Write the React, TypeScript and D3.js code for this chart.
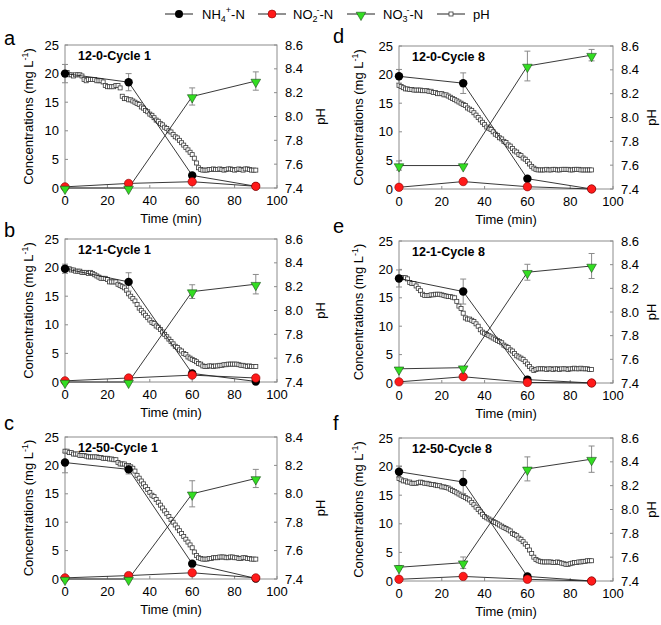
import React from 'react';
import * as d3 from 'd3';

const TIMES = [0, 30, 60, 90];
const X_TICKS = [0, 20, 40, 60, 80, 100];
const C_TICKS = [0, 5, 10, 15, 20, 25];
const PH_TICKS_A = [7.4, 7.6, 7.8, 8.0, 8.2, 8.4, 8.6];
const PH_TICKS_C = [7.4, 7.6, 7.8, 8.0, 8.2, 8.4];

const TITLES = ['12-0-Cycle 1', '12-1-Cycle 1', '12-50-Cycle 1', '12-0-Cycle 8', '12-1-Cycle 8', '12-50-Cycle 8'];
const LETTERS = ['a', 'b', 'c', 'd', 'e', 'f'];

const NH4 = [
  [20, 18.5, 2.2, 0.3],
  [19.8, 17.5, 1.5, 0.1],
  [20.5, 19.3, 2.7, 0.1],
  [19.7, 18.5, 1.8, 0],
  [18.4, 16.1, 0.6, 0],
  [19.1, 17.3, 0.8, 0],
];
const NH4_ERR = [
  [1.6, 1.5, 0, 0],
  [0.8, 1.6, 0, 0],
  [1.8, 0.8, 0, 0],
  [1.2, 1.8, 0, 0],
  [1.5, 2.2, 0, 0],
  [1.0, 2.0, 0, 0],
];
const NO2 = [
  [0.2, 0.8, 1.1, 0.3],
  [0.2, 0.7, 1.2, 0.7],
  [0.2, 0.6, 1.1, 0.2],
  [0.3, 1.3, 0.4, 0],
  [0.2, 1.1, 0.1, 0],
  [0.3, 0.8, 0.3, 0],
];
const NO3 = [
  [0, 0, 16, 18.7],
  [0, 0, 15.8, 17.1],
  [0, 0, 15, 17.7],
  [4.1, 4.1, 21.5, 23.4],
  [2.5, 2.7, 19.5, 20.6],
  [2.4, 3.2, 19.6, 21.3],
];
const NO3_ERR = [
  [0, 0, 1.5, 1.6],
  [0, 0, 1.2, 1.7],
  [0, 0, 2.3, 1.6],
  [0.8, 0, 2.6, 1.0],
  [0, 0, 1.4, 2.2],
  [0.3, 1.0, 2.1, 2.3],
];

// pH readings, one per minute from 0 to 90 min
const PH_A = [
  8.37, 8.37, 8.35, 8.35, 8.34, 8.35, 8.35, 8.35, 8.34, 8.31,
  8.30, 8.31, 8.31, 8.31, 8.31, 8.30, 8.30, 8.30, 8.29, 8.26,
  8.25, 8.25, 8.25, 8.25, 8.26, 8.26, 8.24, 8.17, 8.15, 8.15,
  8.14, 8.14, 8.13, 8.12, 8.11, 8.10, 8.08, 8.07, 8.05, 8.04,
  8.02, 8.01, 7.99, 7.97, 7.96, 7.94, 7.93, 7.91, 7.90, 7.88,
  7.87, 7.85, 7.83, 7.82, 7.80, 7.78, 7.76, 7.74, 7.72, 7.70,
  7.68, 7.65, 7.61, 7.57, 7.555, 7.55, 7.55, 7.55, 7.555, 7.555,
  7.56, 7.555, 7.555, 7.56, 7.555, 7.55, 7.555, 7.56, 7.56, 7.555,
  7.55, 7.555, 7.56, 7.555, 7.55, 7.56, 7.56, 7.555, 7.55, 7.55,
  7.55,
];
const PH_B = [
  8.36, 8.35, 8.35, 8.34, 8.34, 8.33, 8.33, 8.33, 8.32, 8.32,
  8.32, 8.31, 8.32, 8.31, 8.30, 8.29, 8.28, 8.27, 8.27, 8.27,
  8.26, 8.24, 8.24, 8.24, 8.24, 8.22, 8.21, 8.20, 8.19, 8.17,
  8.14, 8.12, 8.10, 8.08, 8.05, 8.02, 8.00, 7.98, 7.96, 7.94,
  7.92, 7.90, 7.89, 7.87, 7.86, 7.84, 7.82, 7.80, 7.78, 7.76,
  7.74, 7.72, 7.70, 7.69, 7.67, 7.66, 7.64, 7.63, 7.61, 7.60,
  7.59, 7.58, 7.57, 7.555, 7.55, 7.535, 7.53, 7.53, 7.535, 7.535,
  7.53, 7.535, 7.535, 7.54, 7.54, 7.545, 7.545, 7.55, 7.55, 7.55,
  7.55, 7.55, 7.545, 7.54, 7.54, 7.535, 7.53, 7.535, 7.53, 7.53,
  7.53,
];
const PH_C = [
  8.30, 8.30, 8.29, 8.29, 8.28, 8.28, 8.28, 8.27, 8.27, 8.27,
  8.265, 8.26, 8.26, 8.26, 8.26, 8.26, 8.255, 8.255, 8.25, 8.25,
  8.25, 8.245, 8.245, 8.24, 8.24, 8.22, 8.21, 8.21, 8.21, 8.20,
  8.20, 8.19, 8.18, 8.16, 8.13, 8.11, 8.09, 8.07, 8.05, 8.03,
  8.01, 7.99, 7.98, 7.96, 7.94, 7.92, 7.90, 7.88, 7.86, 7.84,
  7.82, 7.80, 7.78, 7.76, 7.74, 7.72, 7.70, 7.68, 7.66, 7.64,
  7.62, 7.59, 7.565, 7.55, 7.545, 7.54, 7.54, 7.54, 7.545, 7.545,
  7.55, 7.55, 7.55, 7.555, 7.555, 7.555, 7.55, 7.55, 7.555, 7.555,
  7.55, 7.55, 7.545, 7.545, 7.55, 7.55, 7.545, 7.545, 7.54, 7.54,
  7.54,
];
const PH_D = [
  8.27, 8.26, 8.25, 8.24, 8.24, 8.235, 8.235, 8.23, 8.23, 8.23,
  8.23, 8.225, 8.225, 8.225, 8.22, 8.22, 8.21, 8.21, 8.20, 8.20,
  8.20, 8.19, 8.19, 8.18, 8.17, 8.16, 8.15, 8.14, 8.13, 8.12,
  8.11, 8.10, 8.08, 8.07, 8.06, 8.04, 8.02, 8.00, 7.98, 7.96,
  7.94, 7.92, 7.91, 7.90, 7.88, 7.86, 7.85, 7.83, 7.82, 7.80,
  7.79, 7.77, 7.76, 7.74, 7.72, 7.71, 7.69, 7.68, 7.66, 7.65,
  7.63, 7.61, 7.59, 7.575, 7.565, 7.56, 7.56, 7.56, 7.56, 7.565,
  7.56, 7.56, 7.565, 7.565, 7.56, 7.56, 7.565, 7.565, 7.565, 7.565,
  7.56, 7.56, 7.565, 7.565, 7.565, 7.56, 7.56, 7.56, 7.56, 7.56,
  7.56,
];
const PH_E = [
  8.29, 8.29, 8.29, 8.29, 8.28, 8.25, 8.24, 8.24, 8.22, 8.20,
  8.18, 8.15, 8.14, 8.14, 8.14, 8.145, 8.145, 8.15, 8.15, 8.15,
  8.145, 8.14, 8.135, 8.13, 8.13, 8.125, 8.12, 8.09, 8.05, 8.03,
  7.99, 7.95, 7.94, 7.94, 7.93, 7.92, 7.90, 7.88, 7.85, 7.83,
  7.82, 7.81, 7.80, 7.79, 7.78, 7.77, 7.76, 7.75, 7.74, 7.72,
  7.71, 7.70, 7.68, 7.67, 7.65, 7.63, 7.62, 7.61, 7.60, 7.58,
  7.56, 7.54, 7.52, 7.505, 7.515, 7.52, 7.52, 7.52, 7.52, 7.515,
  7.52, 7.52, 7.515, 7.52, 7.52, 7.515, 7.52, 7.52, 7.52, 7.515,
  7.52, 7.52, 7.525, 7.52, 7.52, 7.525, 7.52, 7.52, 7.52, 7.515,
  7.515,
];
const PH_F = [
  8.26, 8.25, 8.24, 8.24, 8.23, 8.23, 8.22, 8.22, 8.22, 8.225,
  8.23, 8.225, 8.22, 8.22, 8.215, 8.21, 8.21, 8.205, 8.20, 8.20,
  8.19, 8.19, 8.185, 8.18, 8.17, 8.16, 8.15, 8.14, 8.13, 8.12,
  8.11, 8.10, 8.09, 8.08, 8.06, 8.04, 8.02, 8.00, 7.98, 7.96,
  7.94, 7.93, 7.92, 7.91, 7.90, 7.89, 7.88, 7.87, 7.86, 7.85,
  7.84, 7.83, 7.82, 7.80, 7.79, 7.78, 7.76, 7.75, 7.73, 7.71,
  7.69, 7.66, 7.63, 7.60, 7.58, 7.57, 7.565, 7.56, 7.56, 7.56,
  7.56, 7.56, 7.555, 7.555, 7.56, 7.555, 7.55, 7.545, 7.54, 7.54,
  7.545, 7.55, 7.555, 7.555, 7.56, 7.56, 7.565, 7.565, 7.57, 7.57,
  7.57,
];
const PH = [PH_A, PH_B, PH_C, PH_D, PH_E, PH_F];
const PH_DOMAINS: [number, number][] = [[7.4, 8.6], [7.4, 8.6], [7.4, 8.4], [7.4, 8.6], [7.4, 8.6], [7.4, 8.6]];
const PH_TICKS = [PH_TICKS_A, PH_TICKS_A, PH_TICKS_C, PH_TICKS_A, PH_TICKS_A, PH_TICKS_A];

// layout (plot rectangles in page px)
const LAYOUT = [
  { x: 65, y: 45, w: 212, h: 143, lx: 4, ly: 45, col: 0 },
  { x: 65, y: 239, w: 212, h: 143, lx: 4, ly: 237, col: 0 },
  { x: 65, y: 437, w: 212, h: 142, lx: 4, ly: 430, col: 0 },
  { x: 399, y: 46, w: 214, h: 143, lx: 333, ly: 43, col: 1 },
  { x: 399, y: 241, w: 214, h: 142, lx: 333, ly: 233, col: 1 },
  { x: 399, y: 438, w: 214, h: 143, lx: 333, ly: 430, col: 1 },
];

const FONT = '"Liberation Sans", Arial, sans-serif';
const FRAME = '#8c8c8c';
const ERR = '#8a8a8a';
const RED = '#ff1a1a';
const GREEN = '#33dd22';

const triDown = d3.symbol().type(d3.symbolTriangle).size(40)();

function Panel({ i }: { i: number }) {
  const L = LAYOUT[i];
  const x = d3.scaleLinear().domain([0, 100]).range([L.x, L.x + L.w]);
  const y = d3.scaleLinear().domain([0, 25]).range([L.y + L.h, L.y]);
  const y2 = d3.scaleLinear().domain(PH_DOMAINS[i]).range([L.y + L.h, L.y]);
  const line = d3.line<number>().x((_, k) => x(TIMES[k])).y((v) => y(v));
  const phTimes = d3.range(PH[i].length);
  const leftTitleX = L.col === 0 ? 33 : 363;
  const rightTitleX = L.col === 0 ? 325 : 656;
  const cy = L.y + L.h / 2;

  const errBars = (vals: number[], errs: number[], key: string) =>
    vals.map((v, k) =>
      errs[k] > 0 ? (
        <g key={key + k} stroke={ERR} strokeWidth={1}>
          <line x1={x(TIMES[k])} x2={x(TIMES[k])} y1={y(v - errs[k])} y2={y(v + errs[k])} />
          <line x1={x(TIMES[k]) - 3} x2={x(TIMES[k]) + 3} y1={y(v - errs[k])} y2={y(v - errs[k])} />
          <line x1={x(TIMES[k]) - 3} x2={x(TIMES[k]) + 3} y1={y(v + errs[k])} y2={y(v + errs[k])} />
        </g>
      ) : null
    );

  return (
    <g>
      <text x={L.lx} y={L.ly} fontSize={20} fontFamily={FONT}>{LETTERS[i]}</text>
      {/* frame */}
      <rect x={L.x} y={L.y} width={L.w} height={L.h} fill="none" stroke={FRAME} strokeWidth={1} />
      {/* ticks */}
      {C_TICKS.map((t) => (
        <g key={'cl' + t}>
          <line x1={L.x} x2={L.x + 3} y1={y(t)} y2={y(t)} stroke={FRAME} />
          <text x={L.x - 6} y={y(t) + 4.5} textAnchor="end" fontSize={13} fontFamily={FONT}>{t}</text>
        </g>
      ))}
      {PH_TICKS[i].map((t) => (
        <g key={'pr' + t}>
          <line x1={L.x + L.w - 3} x2={L.x + L.w} y1={y2(t)} y2={y2(t)} stroke={FRAME} />
          <text x={L.x + L.w + 8} y={y2(t) + 4.5} textAnchor="start" fontSize={13} fontFamily={FONT}>{t.toFixed(1)}</text>
        </g>
      ))}
      {X_TICKS.map((t) => (
        <g key={'xt' + t}>
          <line x1={x(t)} x2={x(t)} y1={L.y + L.h} y2={L.y + L.h - 3} stroke={FRAME} />
          <text x={x(t)} y={L.y + L.h + 17} textAnchor="middle" fontSize={13} fontFamily={FONT}>{t}</text>
        </g>
      ))}
      <text x={(L.x + L.x + L.w) / 2} y={L.y + L.h + 35} textAnchor="middle" fontSize={13} fontFamily={FONT}>Time (min)</text>
      <text transform={`translate(${leftTitleX},${cy}) rotate(-90)`} textAnchor="middle" fontSize={13} fontFamily={FONT}>
        Concentrations (mg L<tspan fontSize={9} dy={-5}>-1</tspan><tspan dy={5}>)</tspan>
      </text>
      <text transform={`translate(${rightTitleX},${cy}) rotate(-90)`} textAnchor="middle" fontSize={13} fontFamily={FONT}>pH</text>
      <text x={L.x + 13} y={L.y + 15} fontSize={12.5} fontWeight="bold" fontFamily={FONT}>{TITLES[i]}</text>

      {/* pH */}
      {PH[i].map((v, k) => (
        <rect key={'ph' + k} x={x(phTimes[k]) - 2} y={y2(v) - 2} width={4} height={4} fill="#fff" stroke="#3a3a3a" strokeWidth={0.8} />
      ))}

      {/* error bars */}
      {errBars(NH4[i], NH4_ERR[i], 'en')}
      {errBars(NO3[i], NO3_ERR[i], 'e3')}

      {/* lines */}
      <path d={line(NO2[i]) || ''} fill="none" stroke="#222" strokeWidth={0.9} />
      <path d={line(NO3[i]) || ''} fill="none" stroke="#222" strokeWidth={0.9} />
      <path d={line(NH4[i]) || ''} fill="none" stroke="#222" strokeWidth={0.9} />

      {/* markers */}
      {NH4[i].map((v, k) => (
        <circle key={'n4' + k} cx={x(TIMES[k])} cy={y(v)} r={4.2} fill="#000" />
      ))}
      {NO2[i].map((v, k) => (
        <circle key={'n2' + k} cx={x(TIMES[k])} cy={y(v)} r={4.2} fill={RED} stroke="#8a0000" strokeWidth={0.6} />
      ))}
      {NO3[i].map((v, k) => (
        <path key={'n3' + k} d={triDown} transform={`translate(${x(TIMES[k])},${y(v) + 1}) rotate(180)`} fill={GREEN} stroke="#1a4a1a" strokeWidth={0.6} />
      ))}
    </g>
  );
}

function Legend() {
  const yy = 14;
  const items = [
    { x: 165, kind: 'nh4' },
    { x: 258, kind: 'no2' },
    { x: 347, kind: 'no3' },
    { x: 437, kind: 'ph' },
  ];
  return (
    <g fontFamily={FONT} fontSize={13}>
      {items.map((it) => {
        const cx = it.x + 14;
        return (
          <g key={it.kind}>
            <line x1={it.x} x2={it.x + 28} y1={yy} y2={yy} stroke="#222" strokeWidth={1} />
            {it.kind === 'nh4' && <circle cx={cx} cy={yy} r={4} fill="#000" />}
            {it.kind === 'no2' && <circle cx={cx} cy={yy} r={4} fill={RED} stroke="#8a0000" strokeWidth={0.6} />}
            {it.kind === 'no3' && (
              <path d={triDown} transform={`translate(${cx},${yy + 1}) rotate(180)`} fill={GREEN} stroke="#1a4a1a" strokeWidth={0.6} />
            )}
            {it.kind === 'ph' && <rect x={cx - 2} y={yy - 2} width={4} height={4} fill="#fff" stroke="#3a3a3a" strokeWidth={0.8} />}
          </g>
        );
      })}
      <text x={202} y={yy + 5}>
        NH<tspan fontSize={9} dy={3}>4</tspan><tspan fontSize={9} dy={-9}>+</tspan><tspan dy={6}>-N</tspan>
      </text>
      <text x={293} y={yy + 5}>
        NO<tspan fontSize={9} dy={3}>2</tspan><tspan fontSize={9} dy={-9} dx={-1}>-</tspan><tspan dy={6}>-N</tspan>
      </text>
      <text x={383} y={yy + 5}>
        NO<tspan fontSize={9} dy={3}>3</tspan><tspan fontSize={9} dy={-9} dx={-1}>-</tspan><tspan dy={6}>-N</tspan>
      </text>
      <text x={473} y={yy + 5}>pH</text>
    </g>
  );
}

export default function App() {
  return (
    <svg width={661} height={625} style={{ position: 'absolute', left: 0, top: 0, background: '#fff' }}>
      <rect width={661} height={625} fill="#fff" />
      <Legend />
      {LAYOUT.map((_, i) => (
        <Panel key={i} i={i} />
      ))}
    </svg>
  );
}
